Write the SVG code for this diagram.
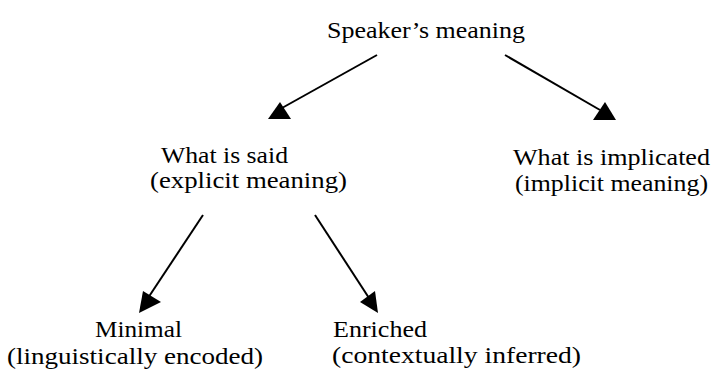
<svg xmlns="http://www.w3.org/2000/svg" width="714" height="375" viewBox="0 0 714 375">
  <style>
    .lbl { font-family: "Liberation Serif", Tinos, "Times New Roman", serif; font-size: 23px; fill: #000; }
    .edge { stroke: #000; stroke-width: 2; fill: none; }
    .head { fill: #000; stroke: none; }
  </style>
  <rect width="714" height="375" fill="#fff"/>

  <g id="connectors">
    <!-- Speaker's meaning -> What is said -->
    <line class="edge" x1="377" y1="55" x2="282" y2="108"/>
    <polygon class="head" points="268,119 291,119 280,102"/>
    <!-- Speaker's meaning -> What is implicated -->
    <line class="edge" x1="505" y1="55" x2="600" y2="110"/>
    <polygon class="head" points="593,120 616,120 605,102"/>
    <!-- What is said -> Minimal -->
    <line class="edge" x1="203" y1="215" x2="148" y2="298"/>
    <polygon class="head" points="139,313 143,291 161,302"/>
    <!-- What is said -> Enriched -->
    <line class="edge" x1="315" y1="215" x2="369" y2="298"/>
    <polygon class="head" points="378,313 360,302 375,291"/>
  </g>

  <g id="speakers-meaning">
    <text class="lbl" x="327" y="38" textLength="198" lengthAdjust="spacingAndGlyphs">Speaker’s meaning</text>
  </g>

  <g id="what-is-said">
    <text class="lbl" x="161" y="163" textLength="127" lengthAdjust="spacingAndGlyphs">What is said</text>
    <text class="lbl" x="150" y="188" textLength="197" lengthAdjust="spacingAndGlyphs">(explicit meaning)</text>
  </g>

  <g id="what-is-implicated">
    <text class="lbl" x="513" y="165" textLength="197" lengthAdjust="spacingAndGlyphs">What is implicated</text>
    <text class="lbl" x="515" y="191" textLength="193" lengthAdjust="spacingAndGlyphs">(implicit meaning)</text>
  </g>

  <g id="minimal">
    <text class="lbl" x="95" y="337" textLength="87" lengthAdjust="spacingAndGlyphs">Minimal</text>
    <text class="lbl" x="7" y="364" textLength="256" lengthAdjust="spacingAndGlyphs">(linguistically encoded)</text>
  </g>

  <g id="enriched">
    <text class="lbl" x="333" y="337" textLength="94" lengthAdjust="spacingAndGlyphs">Enriched</text>
    <text class="lbl" x="332" y="363" textLength="249" lengthAdjust="spacingAndGlyphs">(contextually inferred)</text>
  </g>
</svg>
